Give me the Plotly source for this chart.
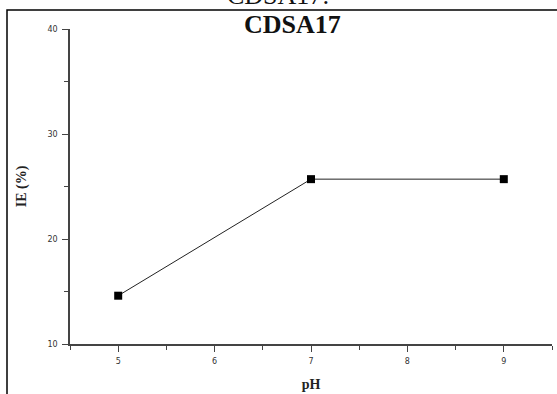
import plotly.graph_objects as go

ph = [5, 7, 9]
ie = [14.6, 25.7, 25.7]
x_ticks = [5, 6, 7, 8, 9]
y_ticks = [10, 20, 30, 40]

W, H = 557, 394
L, R, T, B = 70, 5, 29, 50
pw, ph_ = W - L - R, H - T - B

def px(xp):
    return (xp - L) / pw

def py(yp):
    return 1 - (yp - T) / ph_

fig = go.Figure()
fig.add_trace(go.Scatter(
    x=ph, y=ie, mode="lines+markers",
    line=dict(color="#222222", width=1),
    marker=dict(symbol="square", size=8, color="black"),
    showlegend=False,
))

axis_font = dict(family="DejaVu Sans", size=8, color="#333333")
fig.update_xaxes(
    range=[4.5, 9.5], tickvals=x_ticks, ticks="outside", ticklen=6, tickwidth=1,
    tickcolor="#444444", showline=True, linecolor="#444444", linewidth=1.5,
    showgrid=False, zeroline=False, tickfont=axis_font, ticklabelstandoff=3,
    minor=dict(ticks="outside", ticklen=4, tickcolor="#444444", dtick=0.5, tick0=4.5, showgrid=False),
    title=dict(text="<b>pH</b>", font=dict(family="Liberation Serif", size=14, color="#222222"), standoff=14),
)
fig.update_yaxes(
    range=[10, 40], tickvals=y_ticks, ticks="outside", ticklen=6, tickwidth=1,
    tickcolor="#444444", showline=True, linecolor="#444444", linewidth=1.5,
    showgrid=False, zeroline=False, tickfont=axis_font, ticklabelstandoff=3,
    minor=dict(ticks="outside", ticklen=4, tickcolor="#444444", dtick=5, tick0=10, showgrid=False),
    title=dict(text="<b>IE (%)</b>", font=dict(family="Liberation Serif", size=14, color="#222222"), standoff=18),
)

fig.add_shape(type="rect", xref="paper", yref="paper",
              x0=px(7), x1=px(565), y0=py(405), y1=py(10),
              line=dict(color="black", width=1.5), fillcolor="rgba(0,0,0,0)")

fig.add_annotation(text="<b>CDSA17</b>", xref="paper", yref="paper",
                   x=px(292), y=py(24), xanchor="center", yanchor="middle", showarrow=False,
                   font=dict(family="Liberation Serif", size=26, color="#111111"))
fig.add_annotation(text="CDSA17:", xref="paper", yref="paper",
                   x=px(278), y=py(-4), xanchor="center", yanchor="middle", showarrow=False,
                   font=dict(family="Liberation Serif", size=26, color="#111111"))

fig.update_layout(
    width=W, height=H, margin=dict(l=L, r=R, t=T, b=B),
    paper_bgcolor="white", plot_bgcolor="white",
)
fig.write_html("out.html")
